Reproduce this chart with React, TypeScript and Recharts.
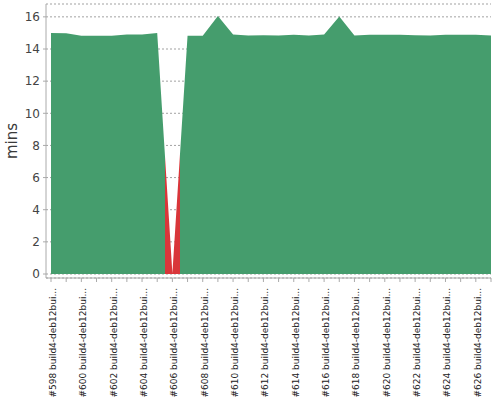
import { Area, AreaChart, CartesianGrid, XAxis, YAxis } from "recharts";

const builds = [
  598, 599, 600, 601, 602, 603, 604, 605, 606, 607, 608, 609, 610, 611, 612,
  613, 614, 615, 616, 617, 618, 619, 620, 621, 622, 623, 624, 625, 626, 627,
];

const nodeLabel = "build4-deb12bui...";

// build duration in minutes
const durations = [
  15.0, 14.98, 14.82, 14.82, 14.83, 14.9, 14.9, 15.0, 0.05, 14.82, 14.82, 16.05,
  14.9, 14.84, 14.86, 14.84, 14.88, 14.84, 14.9, 16.03, 14.84, 14.88, 14.88,
  14.88, 14.86, 14.84, 14.88, 14.88, 14.88, 14.84,
];

const results = [
  "SUCCESS", "SUCCESS", "SUCCESS", "SUCCESS", "SUCCESS", "SUCCESS", "SUCCESS",
  "SUCCESS", "FAILURE", "SUCCESS", "SUCCESS", "SUCCESS", "SUCCESS", "SUCCESS",
  "SUCCESS", "SUCCESS", "SUCCESS", "SUCCESS", "SUCCESS", "SUCCESS", "SUCCESS",
  "SUCCESS", "SUCCESS", "SUCCESS", "SUCCESS", "SUCCESS", "SUCCESS", "SUCCESS",
  "SUCCESS", "SUCCESS",
];

const yTicks = [0, 2, 4, 6, 8, 10, 12, 14, 16];

const resultColors: Record<string, string> = {
  SUCCESS: "#459d6d",
  FAILURE: "#d9363a",
};

const data = builds.map((b, i) => ({
  name: `#${b} ${nodeLabel}`,
  mins: durations[i],
}));

// each build colours its own half-way-to-neighbour slice of the area
const stops = results.flatMap((r, i) => {
  const n = results.length - 1;
  const from = Math.max(0, (i - 0.5) / n);
  const to = Math.min(1, (i + 0.5) / n);
  return [
    { offset: from, color: resultColors[r] },
    { offset: to, color: resultColors[r] },
  ];
});

function BuildTick(props: any) {
  const { x, y, payload, index } = props;
  if (index % 2 !== 0) return null;
  return (
    <g transform={`translate(${x},${y})`}>
      <text
        transform="rotate(-90)"
        x={0}
        y={5}
        textAnchor="end"
        fontSize={9}
        fontFamily="DejaVu Sans"
        fill="#222"
      >
        {payload.value}
      </text>
    </g>
  );
}

export default function App() {
  return (
    <div style={{ position: "absolute", left: 0, top: 0, background: "#fff" }}>
      <AreaChart
        width={500}
        height={400}
        data={data}
        margin={{ top: 4, right: 9, bottom: 0, left: 0 }}
      >
        <defs>
          <linearGradient id="buildColors" x1="0" y1="0" x2="1" y2="0">
            {stops.map((s, i) => (
              <stop key={i} offset={s.offset} stopColor={s.color} />
            ))}
          </linearGradient>
        </defs>
        <XAxis
          dataKey="name"
          interval={0}
          height={122}
          padding={{ left: 5, right: 0 }}
          tick={<BuildTick />}
          tickSize={4}
          tickMargin={6}
          stroke="#aaa"
        />
        <YAxis
          width={46}
          domain={[0, 16.8]}
          ticks={yTicks}
          padding={{ top: 0, bottom: 4 }}
          tickSize={3}
          tickMargin={3}
          stroke="#aaa"
          tick={{ fill: "#444", fontSize: 12, fontFamily: "DejaVu Sans" }}
          label={{
            content: (p: any) => (
              <text
                transform={`translate(${p.viewBox.x + 17},${p.viewBox.y + p.viewBox.height / 2}) rotate(-90)`}
                textAnchor="middle"
                fontSize={15}
                fontFamily="DejaVu Sans"
                fill="#3a3a3a"
              >
                mins
              </text>
            ),
          }}
        />
        <Area
          type="linear"
          dataKey="mins"
          stroke="none"
          fill="url(#buildColors)"
          fillOpacity={1}
          isAnimationActive={false}
        />
        <CartesianGrid
          vertical={false}
          strokeDasharray="2 2"
          stroke="#555"
          strokeOpacity={0.55}
        />
      </AreaChart>
    </div>
  );
}
